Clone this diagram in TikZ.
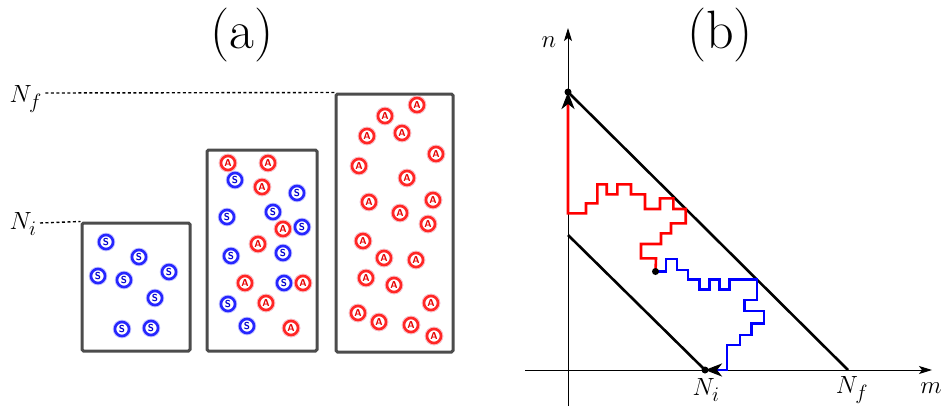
\documentclass[tikz,border=0pt]{standalone}
\usetikzlibrary{arrows.meta}
\begin{document}
\begin{tikzpicture}[x=1pt,y=-1pt,
  box/.style={draw=black!70, line width=3pt, rounded corners=1.5pt},
  sp/.style={circle, minimum size=14pt, inner sep=0pt, draw=blue!85, line width=2.6pt, fill=white, text=blue!80!black,
     font=\sffamily\bfseries\fontsize{10}{10}\selectfont, preaction={draw=blue!25, line width=4.5pt}},
  ap/.style={sp, draw=red!85, text=red!90!black, preaction={draw=red!25, line width=4.5pt}},
  lab/.style={font=\fontsize{30}{34}\selectfont},
  big/.style={font=\fontsize{54}{58}\selectfont},
  dash line/.style={line width=1.4pt, dash pattern=on 3pt off 2.5pt},
  axisline/.style={line width=0.9pt, -{Stealth[length=13pt,width=8pt,inset=3pt]}},
  diag/.style={line width=2.6pt},
  walk/.style={line width=2.6pt},
  dot/.style={circle, fill=black, inner sep=0pt, minimum size=7pt}]
\useasboundingbox (0,0) rectangle (950,410);

% ---------- (a) ----------
\node[big] (la) at (242,35) {(a)};
\node[box, minimum width=108pt, minimum height=128pt, inner sep=0pt] (b1) at (136,287) {};
\node[box, minimum width=110pt, minimum height=201pt, inner sep=0pt] (b2) at (262,250.5) {};
\node[box, minimum width=117pt, minimum height=258pt, inner sep=0pt] (b3) at (394.5,223) {};
\node[lab, anchor=west] (nf) at (6,99) {$N_f$};
\node[lab, anchor=west] (ni) at (6,224) {$N_i$};
\draw[dash line] (nf.east |- 0,93) -- (b3.north west);
\draw[dash line] (ni.east |- 0,223) -- (b1.north west);

% box 1 particles
\foreach \x/\y [count=\i] in {106/242,139/257,169/272,98/276,124/280,155/298,122/329,151/328}
  \node[sp] (s1\i) at (\x,\y) {S};
% box 2 particles
\foreach \x/\y [count=\i] in {235/180,297/193,227/217,273/212,302/227,231/256,283/253,284/283,228/304,247/326}
  \node[sp] (s2\i) at (\x,\y) {S};
\foreach \x/\y [count=\i] in {228/163,268/163,262/187,283/229,258/244,245/283,303/283,266/303,291/328}
  \node[ap] (a2\i) at (\x,\y) {A};
% box 3 particles
\foreach \x/\y [count=\i] in {417/105,385/116,367/136,402/133,436/154,359/166,407/178,369/202,433/200,400/213,428/224,363/241,384/258,416/260,366/278,394/285,431/303,358/313,379/322,411/325,434/336}
  \node[ap] (a3\i) at (\x,\y) {A};

% ---------- (b) ----------
\node[big] (lb) at (720,35) {(b)};
\coordinate (O) at (568,370);
\coordinate (top) at (568,92);
\coordinate (nfm) at (848,370);
\coordinate (nin) at (568,235);
\coordinate (nim) at (705,370);
\coordinate (st) at (655.5,271.5);
\coordinate (yb) at (568,406);
\coordinate (yt) at (568,28);
\coordinate (xl) at (525,370);
\coordinate (xr) at (932,370);
\draw[axisline] (yb) -- (yt);
\draw[axisline] (xl) -- (xr);
\node[lab] (nlab) at (549,42) {$n$};
\node[lab] (mlab) at (931,388) {$m$};
\node[lab] (nilab) at (706,390) {$N_i$};
\node[lab] (nflab) at (852,390) {$N_f$};

\draw[diag] (top) -- (nfm);
\draw[diag] (nin) -- (nim);

% red walk
\draw[walk, red, -{Stealth[black,length=17pt,width=13pt,inset=5pt]}] (st)
  -- (656,258.3) -- (641,258.3) -- (641,244) -- (661,244) -- (661,233.3)
  -- (671,233.3) -- (671,223.3) -- (685.7,223.3) -- (685.7,209) -- (673.3,209)
  -- (673.3,198.3) -- (660,198.3) -- (660,209) -- (645,209) -- (645,194.3)
  -- (631,194.3) -- (631,184.3) -- (617.3,184.3) -- (617.3,194.3) -- (606.7,194.3)
  -- (606.7,184.3) -- (597.3,184.3) -- (597.3,203.3) -- (586,203.3) -- (586,213.3)
  -- (568,213.3) -- (top);
% blue walk
\draw[walk, blue, -{Stealth[black,length=17pt,width=13pt,inset=5pt]}] (st)
  -- (666,271.5) -- (666,259) -- (677,259) -- (677,270) -- (688,270) -- (688,279.3)
  -- (699.5,279.3) -- (699.5,289.3) -- (709.3,289.3) -- (709.3,279.3) -- (719.3,279.3)
  -- (719.3,289.3) -- (729.3,289.3) -- (729.3,279.3) -- (757,279.3) -- (757,300)
  -- (744.7,300) -- (744.7,311) -- (764,311) -- (764,323.7) -- (751.3,323.7)
  -- (751.3,335) -- (740,335) -- (740,345) -- (727,345) -- (727,370) -- (nim);

\node[dot] (dtop) at (top) {};
\node[dot] (dni) at (nim) {};
\node[dot] (dst) at (st) {};
\end{tikzpicture}
\end{document}
